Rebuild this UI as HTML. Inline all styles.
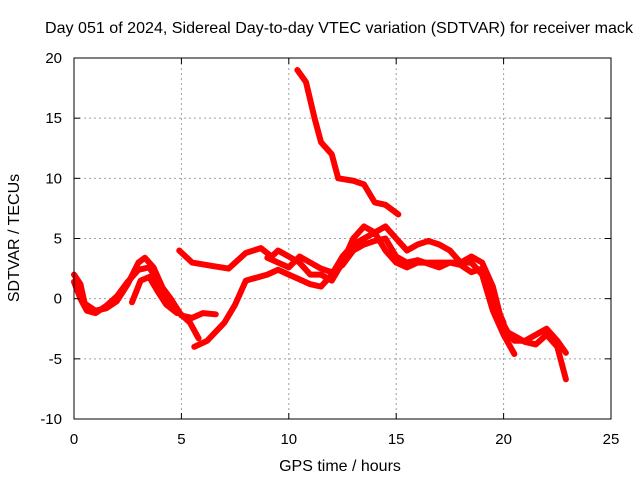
<!DOCTYPE html>
<html><head><meta charset="utf-8"><style>
body{margin:0;background:#fff;}
svg{display:block;font-family:"Liberation Sans",sans-serif;}
</style></head><body>
<svg id="chart" width="640" height="480" xmlns="http://www.w3.org/2000/svg">
<rect width="640" height="480" fill="#fff"/>
<text x="339" y="33" font-size="16" text-anchor="middle" textLength="588" lengthAdjust="spacingAndGlyphs">Day 051 of 2024, Sidereal Day-to-day VTEC variation (SDTVAR) for receiver mack</text>
<g id="grid"></g>
<g id="series"></g>
<rect x="74" y="58" width="537" height="361" fill="none" stroke="#000" stroke-width="1"/>
<g id="axes"></g>
<text x="340" y="471" font-size="16" text-anchor="middle">GPS time / hours</text>
<text transform="translate(19,238) rotate(-90)" font-size="16" text-anchor="middle">SDTVAR / TECUs</text>
</svg>
<script>
const xTicks=[0,5,10,15,20,25];
const yTicks=[-10,-5,0,5,10,15,20];
const trackA=[[0,2],[0.3,1.2],[0.5,-0.4],[1,-1],[1.5,-0.8],[2,-0.2],[2.5,1.2],[3,3],[3.3,3.4],[3.7,2.6],[4.2,0.6],[4.8,-1],[5.4,-2],[5.8,-3.3]];
const trackB=[[0,1.4],[0.3,0],[0.6,-1],[1,-1.2],[1.5,-0.6],[2,0.2],[2.5,1.4],[3,2.4],[3.5,2.6],[4,1.2],[4.5,0],[5,-1.4],[5.5,-1.6],[6,-1.2],[6.6,-1.3]];
const trackC=[[2.7,-0.3],[3.1,1.5],[3.5,1.8],[3.9,0.6],[4.3,-0.5],[4.8,-1.2]];
const trackD=[[5.6,-4],[6.2,-3.5],[7,-2],[7.5,-0.5],[8,1.5],[9,2],[9.5,2.4],[10,2],[10.5,1.6],[11,1.2],[11.5,1],[12,2],[12.5,3.5],[13,4.5],[13.5,5],[14,5.5],[14.5,4],[15,3],[15.5,2.6],[16,3],[17,3],[18,3],[18.5,3],[19,2],[19.5,-1],[20,-3],[20.5,-4.6]];
const trackE=[[4.9,4],[5.5,3],[6.5,2.7],[7.2,2.5],[8,3.8],[8.7,4.2],[9.2,3.5],[9.5,4],[10,3.5],[10.5,3],[11,2],[11.5,2],[12,1.5],[12.5,3],[13,5],[13.5,6],[14,5.5],[14.5,6],[15,5],[15.5,4],[16,4.5],[16.5,4.8],[17,4.5],[17.5,4],[18,3],[18.5,3.5],[19,3],[19.5,1],[20,-2.5],[20.5,-3.5],[21,-3.5],[21.5,-3],[22,-2.5],[22.5,-3.5],[22.9,-4.5]];
const trackF=[[10.4,19],[10.8,18],[11.2,15],[11.5,13],[12,12],[12.3,10],[13,9.8],[13.5,9.5],[14,8],[14.5,7.8],[15.1,7]];
const trackG=[[19.8,-1.5],[20.2,-2.8],[20.6,-3.2],[21,-3.6],[21.5,-3.8],[22,-3],[22.5,-4],[22.9,-6.7]];
const trackH=[[9,3.4],[9.5,3],[10,2.6],[10.5,3.5],[11,3],[11.5,2.5],[12,2.2],[12.5,2.8],[13,4],[13.5,4.5],[14,4.8],[14.5,5],[15,3.5],[15.5,3],[16,3.2],[17,2.6],[17.5,3],[18,2.8],[18.5,2.2],[19,2.5],[19.5,0],[20,-2]];
const tracks=[trackA,trackB,trackC,trackD,trackE,trackF,trackG,trackH];
const X=v=>74+v*537/25, Y=v=>419-(v+10)*361/30;
const ns="http://www.w3.org/2000/svg";
const grid=document.getElementById('grid'),axes=document.getElementById('axes'),ser=document.getElementById('series');
function mk(tag,attrs,parent){const e=document.createElementNS(ns,tag);for(const k in attrs)e.setAttribute(k,attrs[k]);parent.appendChild(e);return e;}
xTicks.forEach(t=>{
  if(t>0&&t<25){const g=mk('line',{x1:X(t),x2:X(t),y1:58,y2:419,stroke:'#a0a0a0','stroke-dasharray':'2,3'},grid);
  
  }
  const l=mk('text',{x:X(t),y:444,'font-size':15,'text-anchor':'middle'},axes);l.textContent=t;
  
  
  mk('line',{x1:X(t),x2:X(t),y1:419,y2:413,stroke:'#000'},axes);
  mk('line',{x1:X(t),x2:X(t),y1:58,y2:64,stroke:'#000'},axes);
});
yTicks.forEach(t=>{
  if(t>-10&&t<20){const g=mk('line',{x1:74,x2:611,y1:Y(t),y2:Y(t),stroke:'#a0a0a0','stroke-dasharray':'2,3'},grid);
  
  }
  const l=mk('text',{x:62,y:Y(t)+5,'font-size':15,'text-anchor':'end'},axes);l.textContent=t;
  
  
  mk('line',{x1:74,x2:80,y1:Y(t),y2:Y(t),stroke:'#000'},axes);
  mk('line',{x1:611,x2:605,y1:Y(t),y2:Y(t),stroke:'#000'},axes);
});
tracks.forEach((tr,i)=>{
  const p=mk('polyline',{points:tr.map(d=>X(d[0])+','+Y(d[1])).join(' '),fill:'none',stroke:'#ff0000','stroke-width':6,'stroke-linejoin':'round','stroke-linecap':'round'},ser);
  
  
});
</script>
</body></html>
